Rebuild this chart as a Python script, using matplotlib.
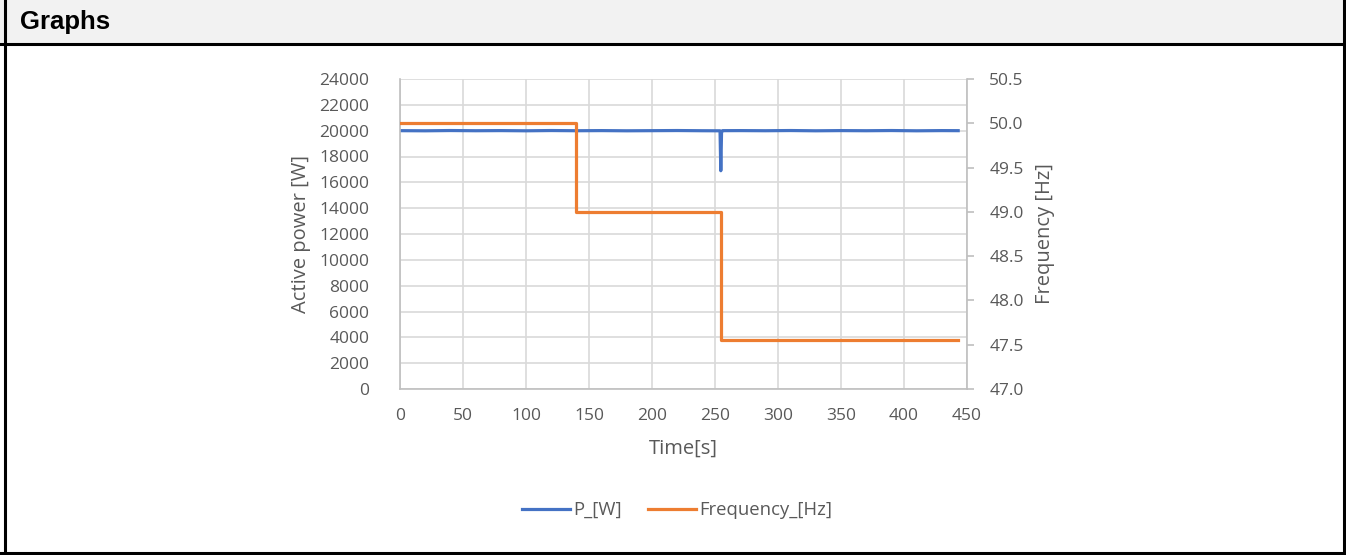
import matplotlib.pyplot as plt
from matplotlib.patches import Rectangle
from matplotlib.lines import Line2D

# Measured power (small jitter around 20 kW, short dip at ~255 s)
time_p = [0, 20, 40, 60, 80, 100, 120, 140, 160, 180, 200, 220, 240, 254, 254.6, 255.2, 256,
          270, 290, 310, 330, 350, 370, 390, 410, 430, 443]
power = [20000, 19990, 20010, 19995, 20005, 19990, 20010, 19995, 20005, 19990, 20000, 20010,
         19995, 19990, 16900, 19920, 20000, 20005, 19995, 20010, 19990, 20005, 19995, 20010,
         19990, 20005, 20000]

# Frequency set-points
time_f = [0, 140, 140, 255, 255, 443]
freq = [50.0, 50.0, 49.0, 49.0, 47.55, 47.55]

x_ticks = list(range(0, 451, 50))
p_ticks = list(range(0, 24001, 2000))
f_ticks = [47.0, 47.5, 48.0, 48.5, 49.0, 49.5, 50.0, 50.5]

blue = '#4472C4'
orange = '#ED7D31'
txt = '#595959'
grid_c = '#d9d9d9'
font = 'Open Sans'
fs = 12.5

fig = plt.figure(figsize=(13.46, 5.55), dpi=100)

# header band and frame
fig.patches.append(Rectangle((0, 1 - 44 / 555), 1, 44 / 555, transform=fig.transFigure,
                             facecolor='#f2f2f2', edgecolor='none', zorder=0))
fig.add_artist(Line2D([0, 1], [1 - 44 / 555] * 2, color='black', lw=2.2, transform=fig.transFigure))
fig.add_artist(Line2D([5 / 1346] * 2, [0, 1], color='black', lw=2.2, transform=fig.transFigure))
fig.add_artist(Line2D([1 - 2 / 1346] * 2, [0, 1], color='black', lw=2.2, transform=fig.transFigure))
fig.add_artist(Line2D([0, 1], [2.5 / 555] * 2, color='black', lw=2.2, transform=fig.transFigure))
fig.text(20 / 1346, 1 - 22 / 555, 'Graphs', fontsize=18.5, fontweight='bold',
         family='Liberation Sans', va='center', ha='left')

ax = fig.add_axes([400 / 1346, 1 - 389 / 555, 567 / 1346, 310 / 555])
ax2 = ax.twinx()

ax.plot(time_p, power, color=blue, lw=2.3, label='P_[W]')
ax2.plot(time_f, freq, color=orange, lw=2.3, label='Frequency_[Hz]')

ax.set_xlim(0, 450)
ax.set_ylim(0, 24000)
ax2.set_ylim(47.0, 50.5)
ax.set_xticks(x_ticks)
ax.set_yticks(p_ticks)
ax2.set_yticks(f_ticks)
ax2.set_yticklabels([f'{v:.1f}' for v in f_ticks])

ax.grid(True, color=grid_c, lw=1.2)
ax.set_axisbelow(True)

for a in (ax, ax2):
    for s in a.spines.values():
        s.set_visible(False)
ax.spines['left'].set_visible(True)
ax.spines['bottom'].set_visible(True)
ax2.spines['right'].set_visible(True)
for s in (ax.spines['left'], ax.spines['bottom'], ax2.spines['right']):
    s.set_color('#bfbfbf')
    s.set_linewidth(1.2)

ax.tick_params(axis='both', length=0, labelsize=fs, labelcolor=txt)
ax.tick_params(axis='y', pad=22)
ax.tick_params(axis='x', pad=14)
ax2.tick_params(axis='y', length=5, width=1.2, color='#bfbfbf', labelsize=fs, labelcolor=txt, pad=11)
for lab in ax.get_xticklabels() + ax.get_yticklabels() + ax2.get_yticklabels():
    lab.set_family(font)

lfs = 14.5
ax.set_xlabel('Time[s]', fontsize=lfs, color=txt, family=font, labelpad=10)
ax.set_ylabel('Active power [W]', fontsize=lfs, color=txt, family=font, labelpad=6)
ax2.set_ylabel('Frequency [Hz]', fontsize=lfs, color=txt, family=font, labelpad=8)

h1, l1 = ax.get_legend_handles_labels()
h2, l2 = ax2.get_legend_handles_labels()
leg = fig.legend(h1 + h2, l1 + l2, loc='center', bbox_to_anchor=(677 / 1346, 1 - 510 / 555),
                 ncol=2, frameon=False, handlelength=2.6, handletextpad=0.2, columnspacing=1.4,
                 prop={'family': font, 'size': 13.3})
for t in leg.get_texts():
    t.set_color(txt)

fig.savefig('out.png', dpi=100)
